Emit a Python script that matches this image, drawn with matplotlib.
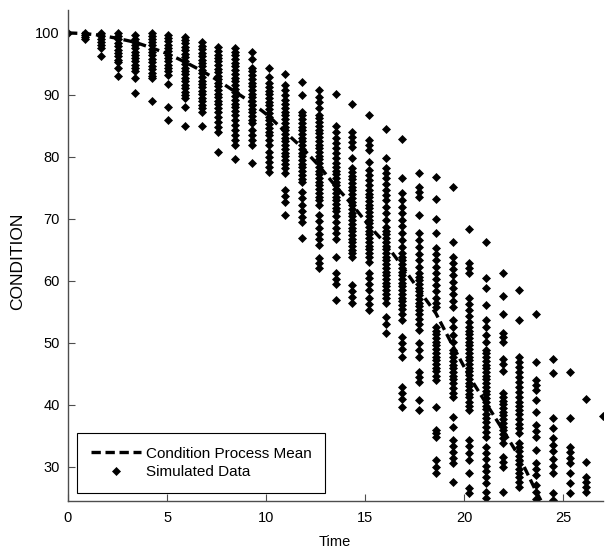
import matplotlib
matplotlib.use("Agg")
import matplotlib.pyplot as plt
import numpy as np

plt.rcParams['font.family'] = ['Liberation Sans', 'DejaVu Sans']

# ---- data ----
times = [0.0, 0.84, 1.69, 2.53, 3.38, 4.22, 5.06, 5.91, 6.75, 7.59, 8.44, 9.28,
         10.13, 10.97, 11.81, 12.66, 13.5, 14.34, 15.19, 16.03, 16.88, 17.72,
         18.56, 19.41, 20.25, 21.09, 21.94, 22.78, 23.63, 24.47, 25.31, 26.16, 27.0]

mean_times = times[:30]
mean_vals = [100.0, 99.9, 99.6, 99.1, 98.5, 97.6, 96.6, 95.3, 93.9, 92.3, 90.5, 88.7,
             86.6, 84.0, 81.5, 78.6, 75.3, 72.3, 68.9, 66.0, 62.3, 58.5, 54.8, 49.6,
             44.6, 40.3, 36.0, 31.6, 26.0, 21.0]

c0 = [100.0]
c1 = [100.0, 99.7, 99.4, 99.1]
c2 = [100.0, 99.5, 99.1, 98.6, 98.1, 97.6, 96.3]
c3 = [100.0, 99.5, 99.0, 98.4, 97.9, 97.3, 96.8, 96.2, 95.7, 95.3, 94.4, 93.1]
c4 = [99.7, 99.1, 98.6, 98.1, 97.6, 97.0, 96.5, 96.0, 95.4, 94.9, 94.3, 93.8, 92.7, 90.3]
c5 = [100.0, 99.5, 99.0, 98.5, 98.0, 97.4, 96.9, 96.4, 95.8, 95.3, 94.7, 94.2, 93.6,
      93.1, 92.7, 89.0]
c6 = [99.7, 99.2, 98.7, 98.1, 97.6, 97.1, 96.5, 96.0, 95.4, 94.9, 94.3, 93.8, 93.2,
      91.8, 88.1, 86.0]
c7 = [99.4, 98.8, 98.3, 97.7, 97.2, 96.6, 96.1, 95.5, 95.0, 94.4, 93.8, 93.3, 92.7,
      92.2, 91.6, 91.1, 90.5, 90.0, 89.5, 88.1, 85.0]
c8 = [98.5, 97.9, 97.4, 96.8, 96.3, 95.7, 95.1, 94.6, 94.0, 93.5, 92.9, 92.3, 91.8,
      91.2, 90.7, 90.1, 89.5, 89.0, 88.4, 87.9, 87.3, 85.0]
c9 = [97.7, 97.1, 96.5, 96.0, 95.4, 94.8, 94.2, 93.7, 93.1, 92.5, 91.9, 91.4, 90.8,
      90.2, 89.6, 89.1, 88.5, 87.9, 87.3, 86.5, 85.7, 84.8, 84.0, 80.8]
c10 = [97.6, 97.0, 96.4, 95.8, 95.2, 94.6, 94.0, 93.4, 92.8, 92.2, 91.6, 91.0, 90.4,
       89.8, 89.2, 88.6, 88.0, 87.4, 86.8, 86.0, 85.2, 84.4, 83.6, 82.8, 82.0, 79.7]
c11 = [96.9, 95.8, 94.4, 93.8, 93.2, 92.6, 92.0, 91.4, 90.8, 90.2, 89.6, 89.0, 88.4,
       87.8, 87.2, 86.6, 86.0, 85.4, 84.4, 83.6, 82.8, 81.9, 79.0]
c12 = [94.4, 92.9, 91.9, 91.3, 90.7, 90.1, 89.5, 88.9, 88.3, 87.7, 87.1, 86.5, 85.9,
       85.3, 84.7, 84.1, 83.5, 82.8, 82.0, 80.8, 80.0, 79.2, 78.4, 77.6]
c13 = [93.4, 91.6, 90.8, 90.0, 89.2, 88.6, 87.9, 87.3, 86.7, 86.1, 85.5, 84.9, 84.3,
       83.7, 83.1, 82.5, 81.9, 81.3, 80.7, 80.1, 79.5, 78.9, 78.2, 77.4, 74.7, 73.7,
       72.7, 70.6]
c14 = [92.1, 90.0, 87.3, 86.7, 86.1, 85.5, 84.9, 84.3, 83.7, 83.1, 82.5, 81.9, 81.3,
       80.7, 80.1, 79.5, 78.9, 78.3, 77.7, 77.1, 76.5, 76.0, 74.4, 73.4, 72.3, 71.2,
       70.3, 69.5, 66.9]
c15 = [90.8, 89.7, 88.8, 87.9, 86.8, 86.2, 85.6, 85.0, 84.4, 83.8, 83.2, 82.6, 82.0,
       81.4, 80.8, 80.2, 79.6, 79.0, 78.4, 77.8, 77.2, 76.6, 76.0, 75.4, 74.8, 74.2,
       73.6, 73.0, 72.3, 70.6, 69.6, 68.6, 67.6, 66.7, 65.8, 63.7, 62.9, 62.1]
c16 = [90.2, 85.0, 84.0, 83.0, 82.2, 81.4, 80.6, 79.8, 79.0, 78.4, 77.8, 77.2, 76.6,
       76.0, 75.4, 74.8, 74.2, 73.6, 73.0, 72.4, 71.8, 71.2, 70.4, 69.5, 68.6, 67.7,
       66.8, 63.8, 61.2, 60.3, 59.5, 57.0]
c17 = [88.5, 84.0, 83.2, 82.4, 81.6, 79.8, 78.2, 77.6, 77.0, 76.4, 75.8, 75.2, 74.6,
       74.0, 73.4, 72.8, 72.2, 71.6, 71.0, 70.4, 69.8, 69.2, 68.6, 68.0, 67.4, 66.8,
       66.2, 65.6, 65.0, 64.5, 63.9, 59.4, 58.4, 57.4, 56.5]
c18 = [86.8, 82.7, 81.9, 81.1, 79.2, 77.9, 77.1, 76.3, 75.5, 74.7, 74.1, 73.5, 72.9,
       72.3, 71.7, 71.1, 70.5, 69.9, 69.3, 68.7, 68.1, 67.5, 66.9, 66.3, 65.7, 65.1,
       64.5, 63.9, 63.0, 61.3, 60.4, 59.5, 58.6, 57.2, 56.2, 55.3]
c19 = [84.5, 79.8, 78.2, 77.4, 76.6, 75.6, 74.7, 73.9, 73.0, 72.0, 71.0, 69.8, 68.7,
       68.1, 67.5, 66.9, 66.3, 65.7, 65.1, 64.5, 63.9, 63.3, 62.7, 62.1, 61.5, 60.9,
       60.3, 59.7, 59.1, 58.5, 57.9, 57.2, 56.5, 54.2, 53.0, 51.6]
c20 = [82.9, 76.6, 74.2, 73.0, 71.9, 71.0, 69.9, 68.8, 67.7, 66.6, 65.5, 64.5, 63.9,
       63.3, 62.7, 62.1, 61.5, 60.9, 60.3, 59.7, 59.1, 58.5, 57.9, 57.3, 56.7, 56.1,
       55.4, 54.6, 53.7, 51.0, 50.0, 49.0, 47.7, 42.9, 42.0, 41.0, 39.7]
c21 = [77.4, 75.2, 74.3, 73.5, 70.6, 67.7, 66.6, 65.5, 64.4, 63.3, 62.3, 61.3, 60.7,
       60.1, 59.5, 58.9, 58.3, 57.7, 57.1, 56.5, 55.9, 55.3, 54.6, 53.9, 53.1, 52.1,
       50.0, 48.8, 47.7, 45.3, 44.5, 43.7, 40.8, 39.2]
c22 = [76.8, 73.2, 70.0, 67.7, 65.3, 64.3, 63.3, 62.3, 61.3, 60.3, 59.3, 58.3, 57.3,
       56.5, 55.8, 52.6, 52.0, 51.4, 50.8, 50.2, 49.6, 49.0, 48.4, 47.8, 47.2, 46.6,
       46.0, 45.4, 44.7, 44.0, 39.7, 36.0, 35.4, 34.8, 31.1, 30.0, 29.0]
c23 = [75.2, 66.3, 63.9, 62.9, 61.9, 60.9, 59.9, 58.9, 57.9, 56.8, 55.8, 53.7, 52.5,
       51.3, 50.1, 48.9, 48.3, 47.7, 47.1, 46.5, 45.9, 45.3, 44.7, 44.1, 43.5, 42.8,
       42.0, 41.3, 38.0, 36.5, 34.4, 33.4, 32.4, 31.5, 30.6, 27.6]
c24 = [68.4, 62.9, 62.1, 61.3, 57.3, 56.3, 55.3, 54.3, 53.4, 52.6, 52.0, 51.4, 50.8,
       50.2, 49.6, 49.0, 48.4, 47.8, 47.2, 46.6, 46.0, 45.4, 44.8, 44.2, 43.6, 43.0,
       42.4, 41.8, 41.2, 40.5, 39.8, 39.2, 34.4, 33.4, 32.3, 31.1, 29.0, 26.6, 25.8]
c25 = [66.3, 60.5, 58.9, 56.1, 53.7, 52.5, 51.3, 50.1, 48.9, 48.3, 47.7, 47.1, 46.5,
       45.9, 45.3, 44.7, 44.1, 43.5, 42.9, 42.3, 41.7, 41.1, 40.5, 39.9, 39.3, 38.6,
       37.9, 37.2, 36.4, 35.6, 34.8, 33.2, 32.2, 31.2, 30.2, 29.3, 28.4, 27.4, 26.0, 25.0]
c26 = [61.3, 57.6, 54.7, 51.6, 51.0, 50.2, 47.4, 46.6, 45.4, 41.9, 41.3, 40.7, 40.1,
       39.5, 38.9, 38.3, 37.7, 37.1, 36.5, 35.9, 35.3, 34.6, 33.9, 31.6, 30.8, 30.0, 26.0]
c27 = [58.5, 53.7, 47.7, 46.9, 46.1, 45.3, 44.5, 43.7, 42.9, 42.1, 41.3, 40.5, 39.8,
       39.2, 38.5, 37.8, 37.0, 36.2, 35.5, 33.9, 33.2, 32.5, 31.8, 31.1, 30.4, 29.7,
       29.0, 28.3, 27.5, 26.8]
c28 = [54.7, 46.9, 44.0, 43.2, 42.4, 40.8, 38.9, 36.8, 35.8, 34.8, 32.7, 30.6, 29.6,
       28.7, 27.1, 26.0, 24.9]
c29 = [47.4, 45.2, 37.9, 36.3, 34.7, 33.6, 32.5, 31.3, 30.1, 29.0, 25.8, 24.7]
c30 = [45.3, 37.9, 33.2, 32.4, 31.5, 30.6, 29.0, 27.4, 25.8]
c31 = [41.0, 30.8, 28.4, 27.6, 26.8, 26.0]
c32 = [38.2]

columns = [c0, c1, c2, c3, c4, c5, c6, c7, c8, c9, c10, c11, c12, c13, c14, c15, c16,
           c17, c18, c19, c20, c21, c22, c23, c24, c25, c26, c27, c28, c29, c30, c31, c32]

xs = np.concatenate([[t] * len(c) for t, c in zip(times, columns)])
ys = np.concatenate([c for c in columns])

# ---- figure ----
fig = plt.figure(figsize=(6.05, 5.51), dpi=100)
ax = fig.add_axes([68 / 605, 1 - 501 / 551, 535 / 605, 491 / 551])

ax.plot(xs, ys, linestyle='none', marker='D', markersize=3.8, color='k',
        markeredgewidth=0.5, label='Simulated Data')
ax.plot(mean_times, mean_vals, color='k', linewidth=2.4, dashes=(2.8, 1.4),
        label='Condition Process Mean')

ax.set_xlim(0, 27)
ax.set_ylim(24.5, 103.7)
ax.set_xticks([0, 5, 10, 15, 20, 25])
ax.set_yticks([30, 40, 50, 60, 70, 80, 90, 100])

for s in ['top', 'right']:
    ax.spines[s].set_visible(False)
for s in ['left', 'bottom']:
    ax.spines[s].set_color('0.3')
    ax.spines[s].set_linewidth(1.0)

ax.tick_params(direction='in', length=5, width=0.8, color='0.3', labelsize=10.5,
               pad=6, top=False, right=False)
ax.tick_params(axis='x', pad=7)

ax.set_xlabel('Time', fontsize=10.5)
ax.set_ylabel('CONDITION', fontsize=12.5)
ax.xaxis.set_label_coords((335 - 68) / 535, (501 - 535) / 491)
ax.yaxis.set_label_coords((25 - 68) / 535, (501 - 261) / 491)

h, l = ax.get_legend_handles_labels()
leg = ax.legend([h[1], h[0]], [l[1], l[0]], loc='lower left',
                bbox_to_anchor=(0.0168, 0.0163), borderaxespad=0,
                fancybox=False, framealpha=1, edgecolor='k', fontsize=11,
                handlelength=3.3, handletextpad=0.3, labelspacing=0.3,
                borderpad=0.9, numpoints=1)
leg.get_frame().set_linewidth(0.8)

fig.savefig('out.png', dpi=100)
